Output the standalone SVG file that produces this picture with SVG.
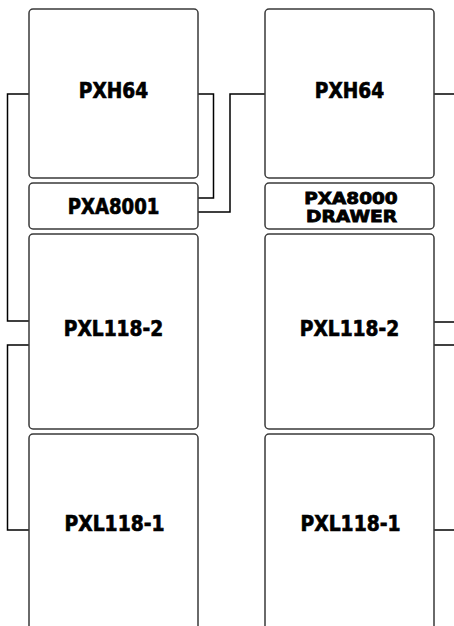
<svg xmlns="http://www.w3.org/2000/svg" width="454" height="626" viewBox="0 0 454 626">
<style>
.box{fill:#fff;stroke:#3a3a3a;stroke-width:1.5}
.lbl{font-family:"DejaVu Sans","Liberation Sans",sans-serif;font-weight:bold;fill:#000;stroke:#000;stroke-width:0.7;text-anchor:middle}
.big{font-size:21.5px}
.sm{font-size:15.2px;stroke-width:0.8}
.wire{fill:none;stroke:#000;stroke-width:1.5}
</style>
<rect width="454" height="626" fill="#fff"/>
<g id="connectors">
<polyline class="wire" points="29,94 7.5,94 7.5,321 29,321"/>
<polyline class="wire" points="29,345 7.5,345 7.5,530 29,530"/>
<polyline class="wire" points="198,94 213.5,94 213.5,198 198,198"/>
<polyline class="wire" points="198,212 230,212 230,94 265,94"/>
<line class="wire" x1="434" y1="94" x2="454" y2="94"/>
<line class="wire" x1="434" y1="322" x2="454" y2="322"/>
<line class="wire" x1="434" y1="345" x2="454" y2="345"/>
<line class="wire" x1="434" y1="530" x2="454" y2="530"/>
</g>
<g id="pxh64-left">
<rect class="box" x="29" y="9" width="169" height="169" rx="4"/>
<text class="lbl big" x="113.5" y="98.3" textLength="69.3" lengthAdjust="spacingAndGlyphs">PXH64</text>
</g>
<g id="pxa8001">
<rect class="box" x="29" y="183" width="169" height="46" rx="4"/>
<text class="lbl big" x="113.5" y="214" textLength="91.7" lengthAdjust="spacingAndGlyphs">PXA8001</text>
</g>
<g id="pxl118-2-left">
<rect class="box" x="29" y="234" width="169" height="195" rx="4"/>
<text class="lbl big" x="113.5" y="335.7" textLength="99.5" lengthAdjust="spacingAndGlyphs">PXL118-2</text>
</g>
<g id="pxl118-1-left">
<rect class="box" x="29" y="434" width="169" height="200" rx="4"/>
<text class="lbl big" x="114.5" y="531" textLength="100" lengthAdjust="spacingAndGlyphs">PXL118-1</text>
</g>
<g id="pxh64-right">
<rect class="box" x="265" y="9" width="169" height="169" rx="4"/>
<text class="lbl big" x="349.5" y="98.3" textLength="69.3" lengthAdjust="spacingAndGlyphs">PXH64</text>
</g>
<g id="pxa8000-drawer">
<rect class="box" x="265" y="183" width="169" height="46" rx="4"/>
<text class="lbl sm" x="351" y="204" textLength="93.3" lengthAdjust="spacingAndGlyphs">PXA8000</text>
<text class="lbl sm" x="351.5" y="222" textLength="91" lengthAdjust="spacingAndGlyphs">DRAWER</text>
</g>
<g id="pxl118-2-right">
<rect class="box" x="265" y="234" width="169" height="195" rx="4"/>
<text class="lbl big" x="349.5" y="335.7" textLength="99.5" lengthAdjust="spacingAndGlyphs">PXL118-2</text>
</g>
<g id="pxl118-1-right">
<rect class="box" x="265" y="434" width="169" height="200" rx="4"/>
<text class="lbl big" x="350.5" y="531" textLength="100" lengthAdjust="spacingAndGlyphs">PXL118-1</text>
</g>
</svg>
